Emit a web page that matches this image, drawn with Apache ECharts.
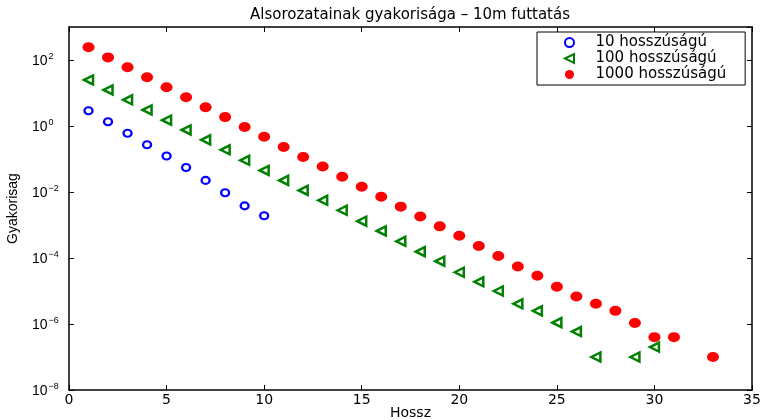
<!DOCTYPE html>
<html>
<head>
<meta charset="utf-8">
<script src="https://cdn.jsdelivr.net/npm/echarts@6/dist/echarts.min.js"></script>
<style>
  html, body { margin: 0; padding: 0; background: #fff; }
  #chart { width: 764px; height: 420px; }
</style>
</head>
<body>
<div id="chart"></div>
<script>
// gyakoriság értékek hossz szerint
var len10X = [1, 2, 3, 4, 5, 6, 7, 8, 9, 10];
var len10Y = [2.9, 1.35, 0.6, 0.27, 0.123, 0.055, 0.0225, 0.0095, 0.0038, 0.0019];

var len100X = [1, 2, 3, 4, 5, 6, 7, 8, 9, 10, 11, 12, 13, 14, 15, 16, 17, 18, 19, 20,
  21, 22, 23, 24, 25, 26, 27, 29, 30];
var len100Y = [24.8, 12.4, 6.2, 3.06, 1.5, 0.76, 0.38, 0.19, 0.091, 0.045, 0.0225, 0.0112,
  0.0056, 0.0028, 0.0013, 6.6e-4, 3.2e-4, 1.56e-4, 8e-5, 3.7e-5, 1.9e-5, 1e-5, 4.1e-6,
  2.5e-6, 1.1e-6, 5.9e-7, 1e-7, 1e-7, 2e-7];

var len1000X = [1, 2, 3, 4, 5, 6, 7, 8, 9, 10, 11, 12, 13, 14, 15, 16, 17, 18, 19, 20,
  21, 22, 23, 24, 25, 26, 27, 28, 29, 30, 31, 33];
var len1000Y = [243, 120, 60, 30, 15, 7.4, 3.7, 1.86, 0.93, 0.47, 0.23, 0.115, 0.059, 0.029,
  0.0145, 0.0072, 0.0036, 0.0018, 9.1e-4, 4.7e-4, 2.3e-4, 1.15e-4, 5.5e-5, 2.9e-5, 1.35e-5,
  6.8e-6, 4.1e-6, 2.5e-6, 1.07e-6, 4e-7, 4e-7, 1e-7];

var seriesNames = ['10 hosszúságú', '100 hosszúságú', '1000 hosszúságú'];

function pairs(xs, ys) {
  return xs.map(function (x, i) { return [x, ys[i]]; });
}

var font = 'Liberation Sans, Arial, sans-serif';
var wide = 'DejaVu Sans, sans-serif';

var chart = echarts.init(document.getElementById('chart'));
var option = {
  backgroundColor: '#fff',
  animation: false,
  title: {
    text: 'Alsorozatainak gyakorisága – 10m futtatás',
    left: 405,
    textAlign: 'center',
    top: 3,
    textStyle: { fontFamily: wide, fontSize: 15, fontWeight: 'normal', color: '#000' }
  },
  legend: {
    orient: 'vertical',
    left: 537,
    top: 32,
    padding: [3, 19, 3, 27],
    itemGap: 1,
    itemWidth: 10,
    itemHeight: 9,
    borderColor: '#000',
    borderWidth: 1,
    borderRadius: 0,
    backgroundColor: '#fff',
    data: [
      { name: seriesNames[0] },
      { name: seriesNames[1], icon: 'path://M0,5L10,0L10,10Z' },
      { name: seriesNames[2] }
    ],
    textStyle: { fontFamily: wide, fontSize: 15, lineHeight: 15, color: '#000', padding: [0, 0, 0, 16] }
  },
  grid: { left: 69, right: 12, top: 27, bottom: 30, outerBoundsMode: 'none' },
  xAxis: [{
    type: 'value',
    min: 0, max: 35, interval: 5,
    name: 'Hossz',
    nameLocation: 'middle',
    nameGap: 16,
    nameMoveOverlap: false,
    nameTextStyle: { fontFamily: wide, fontSize: 14, color: '#000' },
    axisLine: { lineStyle: { color: '#000', width: 1.5 } },
    axisTick: { inside: true, length: 5, lineStyle: { color: '#000' } },
    axisLabel: { fontFamily: wide, fontSize: 14, color: '#000', margin: 3 },
    splitLine: { show: false }
  }, {
    type: 'value',
    position: 'top',
    min: 0, max: 35, interval: 5,
    axisLine: { onZero: false, lineStyle: { color: '#000', width: 1.5 } },
    axisTick: { inside: true, length: 5, lineStyle: { color: '#000' } },
    axisLabel: { show: false },
    splitLine: { show: false }
  }],
  yAxis: [{
    type: 'log',
    logBase: 10,
    min: 1e-8, max: 1e3, interval: 2,
    name: 'Gyakorisag',
    nameLocation: 'middle',
    nameGap: 49,
    nameMoveOverlap: false,
    nameTextStyle: { fontFamily: font, fontSize: 14, color: '#000' },
    axisLine: { lineStyle: { color: '#000', width: 1.5 } },
    axisTick: { inside: true, length: 5, lineStyle: { color: '#000' } },
    axisLabel: {
      align: 'left',
      margin: 37,
      showMaxLabel: false,
      formatter: function (v) {
        var e = Math.round(Math.log10(v));
        return '{b|10}{s|' + String(e).replace('-', '\u2212') + '}';
      },
      rich: {
        b: { fontFamily: font, fontSize: 14, color: '#000', verticalAlign: 'bottom' },
        s: { fontFamily: font, fontSize: 9, color: '#000', verticalAlign: 'bottom', padding: [0, 0, 7, 1] }
      }
    },
    splitLine: { show: false }
  }, {
    type: 'log',
    logBase: 10,
    position: 'right',
    min: 1e-8, max: 1e3, interval: 2,
    axisLine: { onZero: false, lineStyle: { color: '#000', width: 1.5 } },
    axisTick: { inside: true, length: 5, lineStyle: { color: '#000' } },
    axisLabel: { show: false },
    splitLine: { show: false }
  }],
  series: [{
    name: seriesNames[0],
    type: 'scatter',
    data: pairs(len10X, len10Y),
    symbol: 'circle',
    symbolSize: [8, 7],
    itemStyle: { color: '#fff', borderColor: '#0000ff', borderWidth: 2.2, opacity: 1 }
  }, {
    name: seriesNames[1],
    type: 'scatter',
    data: pairs(len100X, len100Y),
    symbol: 'triangle',
    symbolRotate: 90,
    symbolSize: [9, 9],
    itemStyle: { color: '#fff', borderColor: '#008000', borderWidth: 2.5, opacity: 1 }
  }, {
    name: seriesNames[2],
    type: 'scatter',
    data: pairs(len1000X, len1000Y),
    symbol: 'circle',
    symbolSize: [12, 10],
    itemStyle: { color: '#ff0000', opacity: 1 }
  }]
};
chart.setOption(option);
</script>
</body>
</html>
